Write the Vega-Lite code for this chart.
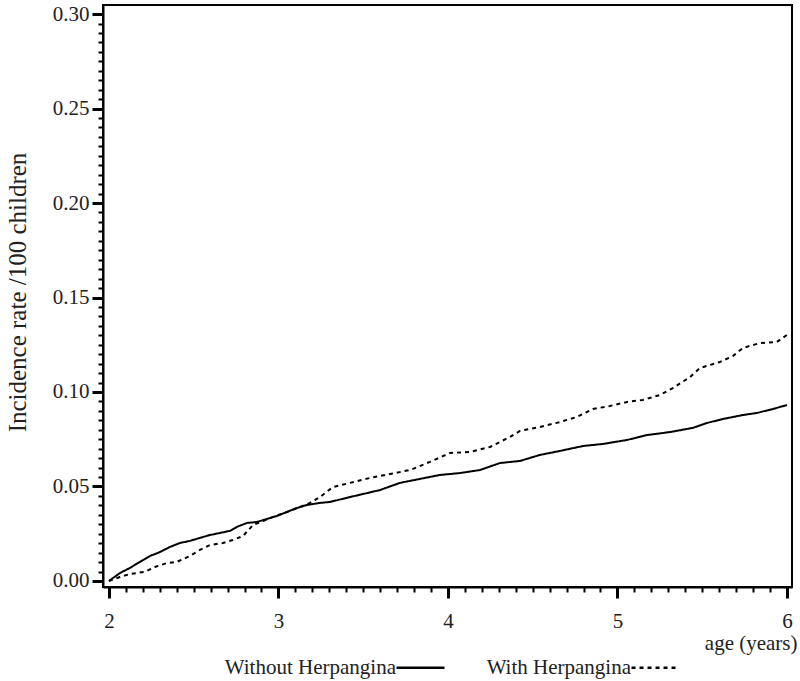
{
  "$schema": "https://vega.github.io/schema/vega-lite/v6.json",
  "width": 689,
  "height": 582,
  "autosize": {"type": "none"},
  "padding": {"left": 103, "top": 5, "right": 8, "bottom": 94},
  "background": "white",
  "config": {
    "view": {"stroke": "black", "strokeWidth": 2},
    "axis": {"grid": false, "domainColor": "black", "tickColor": "black", "labelColor": "#222", "titleColor": "#222", "labelFont": "Liberation Serif", "titleFont": "Liberation Serif", "titleFontWeight": "normal"}
  },
  "data": {
    "values": [
      {"age": 2.0, "rate": 0.0, "group": "Without Herpangina"},
      {"age": 2.065, "rate": 0.0042, "group": "Without Herpangina"},
      {"age": 2.124, "rate": 0.0069, "group": "Without Herpangina"},
      {"age": 2.183, "rate": 0.0101, "group": "Without Herpangina"},
      {"age": 2.242, "rate": 0.0132, "group": "Without Herpangina"},
      {"age": 2.301, "rate": 0.0153, "group": "Without Herpangina"},
      {"age": 2.36, "rate": 0.018, "group": "Without Herpangina"},
      {"age": 2.419, "rate": 0.0201, "group": "Without Herpangina"},
      {"age": 2.478, "rate": 0.0212, "group": "Without Herpangina"},
      {"age": 2.537, "rate": 0.0228, "group": "Without Herpangina"},
      {"age": 2.596, "rate": 0.0243, "group": "Without Herpangina"},
      {"age": 2.655, "rate": 0.0254, "group": "Without Herpangina"},
      {"age": 2.714, "rate": 0.0265, "group": "Without Herpangina"},
      {"age": 2.755, "rate": 0.0286, "group": "Without Herpangina"},
      {"age": 2.814, "rate": 0.0307, "group": "Without Herpangina"},
      {"age": 2.873, "rate": 0.0312, "group": "Without Herpangina"},
      {"age": 2.932, "rate": 0.0328, "group": "Without Herpangina"},
      {"age": 2.991, "rate": 0.0344, "group": "Without Herpangina"},
      {"age": 3.05, "rate": 0.0365, "group": "Without Herpangina"},
      {"age": 3.109, "rate": 0.0386, "group": "Without Herpangina"},
      {"age": 3.168, "rate": 0.0402, "group": "Without Herpangina"},
      {"age": 3.245, "rate": 0.0413, "group": "Without Herpangina"},
      {"age": 3.304, "rate": 0.0418, "group": "Without Herpangina"},
      {"age": 3.422, "rate": 0.0444, "group": "Without Herpangina"},
      {"age": 3.599, "rate": 0.0481, "group": "Without Herpangina"},
      {"age": 3.717, "rate": 0.0519, "group": "Without Herpangina"},
      {"age": 3.835, "rate": 0.054, "group": "Without Herpangina"},
      {"age": 3.953, "rate": 0.0561, "group": "Without Herpangina"},
      {"age": 4.071, "rate": 0.0571, "group": "Without Herpangina"},
      {"age": 4.189, "rate": 0.0587, "group": "Without Herpangina"},
      {"age": 4.307, "rate": 0.0624, "group": "Without Herpangina"},
      {"age": 4.425, "rate": 0.0635, "group": "Without Herpangina"},
      {"age": 4.543, "rate": 0.0667, "group": "Without Herpangina"},
      {"age": 4.661, "rate": 0.0688, "group": "Without Herpangina"},
      {"age": 4.796, "rate": 0.0714, "group": "Without Herpangina"},
      {"age": 4.914, "rate": 0.0725, "group": "Without Herpangina"},
      {"age": 5.056, "rate": 0.0746, "group": "Without Herpangina"},
      {"age": 5.174, "rate": 0.0772, "group": "Without Herpangina"},
      {"age": 5.31, "rate": 0.0788, "group": "Without Herpangina"},
      {"age": 5.445, "rate": 0.081, "group": "Without Herpangina"},
      {"age": 5.528, "rate": 0.0836, "group": "Without Herpangina"},
      {"age": 5.622, "rate": 0.0857, "group": "Without Herpangina"},
      {"age": 5.74, "rate": 0.0878, "group": "Without Herpangina"},
      {"age": 5.823, "rate": 0.0889, "group": "Without Herpangina"},
      {"age": 5.917, "rate": 0.091, "group": "Without Herpangina"},
      {"age": 6.0, "rate": 0.0931, "group": "Without Herpangina"},
      {"age": 2.0, "rate": 0.0, "group": "With Herpangina"},
      {"age": 2.065, "rate": 0.0021, "group": "With Herpangina"},
      {"age": 2.124, "rate": 0.0037, "group": "With Herpangina"},
      {"age": 2.212, "rate": 0.0048, "group": "With Herpangina"},
      {"age": 2.271, "rate": 0.0074, "group": "With Herpangina"},
      {"age": 2.342, "rate": 0.0095, "group": "With Herpangina"},
      {"age": 2.401, "rate": 0.0101, "group": "With Herpangina"},
      {"age": 2.466, "rate": 0.0127, "group": "With Herpangina"},
      {"age": 2.537, "rate": 0.0164, "group": "With Herpangina"},
      {"age": 2.596, "rate": 0.019, "group": "With Herpangina"},
      {"age": 2.673, "rate": 0.0201, "group": "With Herpangina"},
      {"age": 2.732, "rate": 0.0217, "group": "With Herpangina"},
      {"age": 2.791, "rate": 0.0238, "group": "With Herpangina"},
      {"age": 2.85, "rate": 0.0296, "group": "With Herpangina"},
      {"age": 2.909, "rate": 0.0317, "group": "With Herpangina"},
      {"age": 2.968, "rate": 0.0339, "group": "With Herpangina"},
      {"age": 3.05, "rate": 0.0365, "group": "With Herpangina"},
      {"age": 3.127, "rate": 0.0392, "group": "With Herpangina"},
      {"age": 3.186, "rate": 0.0413, "group": "With Herpangina"},
      {"age": 3.245, "rate": 0.0444, "group": "With Herpangina"},
      {"age": 3.322, "rate": 0.0497, "group": "With Herpangina"},
      {"age": 3.422, "rate": 0.0519, "group": "With Herpangina"},
      {"age": 3.54, "rate": 0.0545, "group": "With Herpangina"},
      {"age": 3.658, "rate": 0.0566, "group": "With Herpangina"},
      {"age": 3.776, "rate": 0.0587, "group": "With Herpangina"},
      {"age": 3.894, "rate": 0.063, "group": "With Herpangina"},
      {"age": 4.012, "rate": 0.0677, "group": "With Herpangina"},
      {"age": 4.13, "rate": 0.0683, "group": "With Herpangina"},
      {"age": 4.248, "rate": 0.0709, "group": "With Herpangina"},
      {"age": 4.366, "rate": 0.0762, "group": "With Herpangina"},
      {"age": 4.425, "rate": 0.0794, "group": "With Herpangina"},
      {"age": 4.543, "rate": 0.0815, "group": "With Herpangina"},
      {"age": 4.661, "rate": 0.0841, "group": "With Herpangina"},
      {"age": 4.761, "rate": 0.0868, "group": "With Herpangina"},
      {"age": 4.855, "rate": 0.091, "group": "With Herpangina"},
      {"age": 4.956, "rate": 0.0926, "group": "With Herpangina"},
      {"age": 5.056, "rate": 0.0947, "group": "With Herpangina"},
      {"age": 5.15, "rate": 0.0958, "group": "With Herpangina"},
      {"age": 5.251, "rate": 0.0984, "group": "With Herpangina"},
      {"age": 5.327, "rate": 0.1021, "group": "With Herpangina"},
      {"age": 5.428, "rate": 0.1079, "group": "With Herpangina"},
      {"age": 5.487, "rate": 0.1127, "group": "With Herpangina"},
      {"age": 5.605, "rate": 0.1159, "group": "With Herpangina"},
      {"age": 5.681, "rate": 0.119, "group": "With Herpangina"},
      {"age": 5.74, "rate": 0.1233, "group": "With Herpangina"},
      {"age": 5.841, "rate": 0.1259, "group": "With Herpangina"},
      {"age": 5.941, "rate": 0.1265, "group": "With Herpangina"},
      {"age": 6.0, "rate": 0.1302, "group": "With Herpangina"}
    ]
  },
  "layer": [
    {
      "mark": {"type": "line", "strokeWidth": 2, "clip": true},
      "encoding": {
        "x": {
          "field": "age", "type": "quantitative",
          "scale": {"domain": [1.965, 6.03], "nice": false, "zero": false},
          "axis": {
            "orient": "bottom", "values": [2, 3, 4, 5, 6], "format": "d",
            "tickSize": 11, "tickWidth": 3, "domainWidth": 2,
            "labelFontSize": 21, "labelPadding": 12,
            "title": "age (years)", "titleFontSize": 21,
            "titleX": 694, "titleY": 45, "titleAlign": "right", "titleBaseline": "top", "titleAnchor": null
          }
        },
        "y": {
          "field": "rate", "type": "quantitative",
          "scale": {"domain": [-0.0032, 0.3048], "nice": false, "zero": false},
          "axis": {
            "orient": "left", "values": [0, 0.05, 0.1, 0.15, 0.2, 0.25, 0.3], "format": ".2f",
            "tickSize": 11, "tickWidth": 3, "domainWidth": 2,
            "labelFontSize": 21, "labelPadding": 3,
            "title": "Incidence rate /100 children", "titleFontSize": 25,
            "titleX": -86, "titleY": 287, "titleAngle": -90, "titleAlign": "center", "titleBaseline": "middle"
          }
        },
        "color": {
          "field": "group", "type": "nominal",
          "scale": {"domain": ["Without Herpangina", "With Herpangina"], "range": ["black", "black"]},
          "legend": {
            "orient": "none", "legendX": 292, "legendY": 637, "direction": "horizontal", "title": null,
            "symbolType": "stroke", "symbolSize": 2300, "symbolStrokeWidth": 2.5,
            "labelFont": "Liberation Serif", "labelFontSize": 21, "labelColor": "#222",
            "labelAlign": "right", "labelOffset": -50, "columnPadding": 36, "labelLimit": 300
          }
        },
        "strokeDash": {
          "field": "group", "type": "nominal",
          "scale": {"domain": ["Without Herpangina", "With Herpangina"], "range": [[1, 0], [4, 4]]},
          "legend": {
            "orient": "none", "legendX": 292, "legendY": 637, "direction": "horizontal", "title": null,
            "symbolType": "stroke", "symbolSize": 2300, "symbolStrokeWidth": 2.5,
            "labelFont": "Liberation Serif", "labelFontSize": 21, "labelColor": "#222",
            "labelAlign": "right", "labelOffset": -50, "columnPadding": 36, "labelLimit": 300
          }
        }
      }
    },
    {
      "mark": {"type": "point", "opacity": 0},
      "encoding": {
        "x": {
          "field": "age", "type": "quantitative",
          "axis": {
            "orient": "bottom", "domain": false, "labels": false, "title": null,
            "tickSize": 5, "tickWidth": 2,
            "values": [2.0,2.1,2.2,2.3,2.4,2.5,2.6,2.7,2.8,2.9,3.0,3.1,3.2,3.3,3.4,3.5,3.6,3.7,3.8,3.9,4.0,4.1,4.2,4.3,4.4,4.5,4.6,4.7,4.8,4.9,5.0,5.1,5.2,5.3,5.4,5.5,5.6,5.7,5.8,5.9,6.0]
          }
        },
        "y": {
          "field": "rate", "type": "quantitative",
          "axis": {
            "orient": "left", "domain": false, "labels": false, "title": null,
            "tickSize": 5, "tickWidth": 2,
            "values": [0,0.005,0.01,0.015,0.02,0.025,0.03,0.035,0.04,0.045,0.05,0.055,0.06,0.065,0.07,0.075,0.08,0.085,0.09,0.095,0.1,0.105,0.11,0.115,0.12,0.125,0.13,0.135,0.14,0.145,0.15,0.155,0.16,0.165,0.17,0.175,0.18,0.185,0.19,0.195,0.2,0.205,0.21,0.215,0.22,0.225,0.23,0.235,0.24,0.245,0.25,0.255,0.26,0.265,0.27,0.275,0.28,0.285,0.29,0.295,0.3]
          }
        }
      }
    }
  ],
  "resolve": {"axis": {"x": "independent", "y": "independent"}}
}
